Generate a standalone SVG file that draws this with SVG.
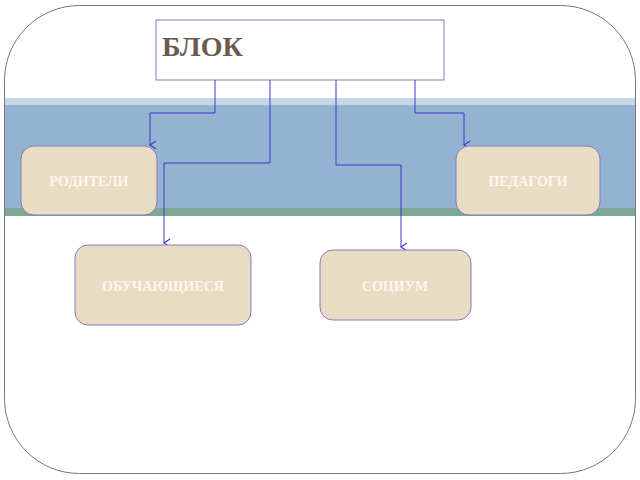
<svg xmlns="http://www.w3.org/2000/svg" width="640" height="480" viewBox="0 0 640 480">
<defs>
<style>
.node rect{fill:#e8dcc2;stroke:#8a78c0;stroke-width:1}
.node text{font-family:"Liberation Serif",serif;font-weight:bold;font-size:14px;fill:#fbf7ee;text-anchor:middle}
.conn path{fill:none;stroke:#3a3acc;stroke-width:1}
</style>
<marker id="arr" markerWidth="10" markerHeight="10" refX="5" refY="9" orient="auto" markerUnits="userSpaceOnUse" viewBox="0 0 10 10">
<path d="M1,3 L5,9 L9,3" fill="none" stroke="#3a3acc" stroke-width="1.2"/>
</marker>
</defs>
<rect width="640" height="480" fill="#fff"/>
<rect x="5" y="98" width="631" height="7" fill="#c7d6e4"/>
<rect x="5" y="105" width="631" height="103" fill="#93b3d1"/>
<rect x="5" y="208" width="631" height="8" fill="#7ea596"/>
<rect x="4.5" y="5.5" width="631" height="468" rx="75" ry="75" fill="none" stroke="#777" stroke-width="1"/>
<g id="blok"><rect x="156" y="20" width="288" height="60" fill="#fff" stroke="#8a78c0"/>
<text x="162" y="56" font-family="Liberation Serif,serif" font-weight="bold" font-size="28" fill="#6b5a4e">БЛОК</text></g>
<g class="conn" id="connectors">
<path d="M215,80 V113 H150 V145" marker-end="url(#arr)"/>
<path d="M270,80 V163 H164 V243" marker-end="url(#arr)"/>
<path d="M336,80 V165 H401 V247" marker-end="url(#arr)"/>
<path d="M415,80 V113 H464 V145" marker-end="url(#arr)"/>
</g>
<g class="node" id="roditeli"><rect x="21" y="146" width="136" height="69" rx="13"/><text x="89" y="186">РОДИТЕЛИ</text></g>
<g class="node" id="pedagogi"><rect x="456" y="146" width="144" height="69" rx="13"/><text x="528" y="186">ПЕДАГОГИ</text></g>
<g class="node" id="obuch"><rect x="75" y="245" width="176" height="80" rx="13"/><text x="163" y="291">ОБУЧАЮЩИЕСЯ</text></g>
<g class="node" id="socium"><rect x="320" y="250" width="151" height="70" rx="13"/><text x="395" y="291">СОЦИУМ</text></g>
</svg>
